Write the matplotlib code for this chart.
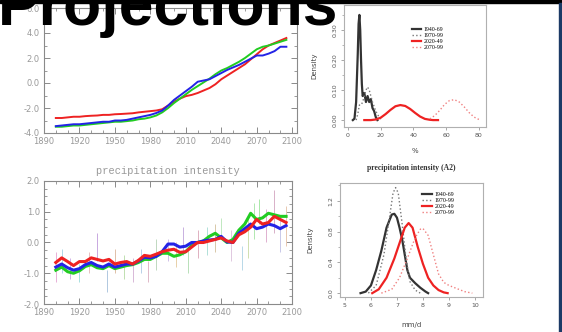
import numpy as np
import matplotlib
matplotlib.use("Agg")
import matplotlib.pyplot as plt
from matplotlib.ticker import MultipleLocator

W, H = 562, 332

# ---- top left: projections (anomaly time series) ----
yrs_top = [1900, 1905, 1910, 1915, 1920, 1925, 1930, 1935, 1940, 1945, 1950, 1955,
           1960, 1965, 1970, 1975, 1980, 1985, 1990, 1995, 2000, 2005, 2010, 2015,
           2020, 2025, 2030, 2035, 2040, 2045, 2050, 2055, 2060, 2065, 2070, 2075,
           2080, 2085, 2090, 2095]
red_top = [-2.8, -2.8, -2.75, -2.7, -2.7, -2.65, -2.62, -2.6, -2.55, -2.55, -2.5, -2.48,
           -2.45, -2.42, -2.35, -2.3, -2.25, -2.2, -2.1, -1.8, -1.5, -1.25, -1.05, -0.95,
           -0.8, -0.6, -0.4, -0.1, 0.3, 0.6, 0.9, 1.2, 1.5, 1.9, 2.3, 2.7, 3.0, 3.2, 3.4, 3.6]
blue_top = [-3.45, -3.4, -3.35, -3.3, -3.3, -3.25, -3.2, -3.15, -3.1, -3.1, -3.0, -3.0,
            -2.95, -2.85, -2.75, -2.65, -2.55, -2.4, -2.2, -1.8, -1.35, -1.0, -0.65, -0.3,
            0.1, 0.2, 0.3, 0.55, 0.8, 1.05, 1.25, 1.45, 1.7, 1.95, 2.2, 2.2, 2.35, 2.55, 2.9, 2.9]
green_top = [-3.5, -3.5, -3.45, -3.4, -3.4, -3.35, -3.3, -3.25, -3.2, -3.15, -3.1, -3.1,
             -3.05, -3.0, -2.9, -2.85, -2.75, -2.6, -2.35, -2.0, -1.6, -1.25, -0.9, -0.55,
             -0.25, 0.05, 0.35, 0.7, 1.0, 1.2, 1.45, 1.7, 2.0, 2.35, 2.7, 2.9, 3.0, 3.15, 3.3, 3.45]

# ---- bottom left: precipitation intensity ----
yrs_bot = yrs_top
red_bot = [-0.65, -0.5, -0.62, -0.75, -0.62, -0.62, -0.5, -0.55, -0.6, -0.55, -0.7, -0.65,
           -0.62, -0.7, -0.58, -0.42, -0.45, -0.38, -0.3, -0.25, -0.22, -0.32, -0.3, -0.15,
           0.0, 0.0, 0.05, 0.1, 0.15, 0.05, 0.0, 0.25, 0.35, 0.5, 0.75, 0.6, 0.65, 0.85, 0.75, 0.65]
blue_bot = [-0.8, -0.7, -0.82, -0.9, -0.85, -0.72, -0.65, -0.75, -0.8, -0.7, -0.8, -0.75,
            -0.7, -0.7, -0.6, -0.48, -0.5, -0.45, -0.3, -0.05, -0.05, -0.15, -0.12, 0.0,
            0.0, 0.05, 0.08, 0.1, 0.2, 0.02, 0.0, 0.3, 0.45, 0.6, 0.45, 0.5, 0.6, 0.55, 0.45, 0.55]
green_bot = [-0.9, -0.8, -0.95, -1.0, -0.92, -0.78, -0.72, -0.82, -0.85, -0.75, -0.85, -0.8,
             -0.75, -0.72, -0.65, -0.55, -0.55, -0.45, -0.35, -0.35, -0.45, -0.4, -0.3, -0.1,
             0.0, 0.05, 0.2, 0.3, 0.15, 0.0, 0.1, 0.4, 0.6, 0.95, 0.75, 0.8, 0.95, 0.9, 0.85, 0.85]
# faint annual spread spikes
spike_yr = [1900, 1905, 1912, 1920, 1928, 1935, 1943, 1950, 1958, 1965, 1972, 1978,
            1985, 1995, 2002, 2008, 2012, 2020, 2028, 2035, 2040, 2048, 2058, 2063,
            2068, 2072, 2078, 2085, 2090, 2095]
spike_lo = [-1.3, -1.0, -1.2, -1.3, -1.0, -0.6, -1.6, -1.0, -1.2, -1.3, -1.0, -1.3,
            -0.9, -0.6, -0.8, -0.4, -1.0, -0.5, -0.4, -0.3, 0.1, -0.6, -0.9, -0.5,
            0.1, 0.6, 0.0, 0.3, -0.3, -0.1]
spike_hi = [-0.3, -0.2, -0.5, -0.7, -0.3, 0.3, -0.9, -0.2, -0.4, -0.5, -0.2, -0.6,
            0.1, 0.1, 0.0, 0.5, -0.2, 0.4, 0.5, 0.6, 0.8, 0.4, -0.1, 0.9,
            1.3, 1.4, 1.1, 1.7, 0.9, 1.2]
spike_col = ["#e8b0d8", "#b0d8e8", "#d0b0e8", "#a8e0e0", "#e8c0c0", "#c8a8e0", "#b0c8e0",
             "#e0c0a8", "#c0e0b0", "#d8b8d8", "#b8d0e8", "#e0b8c8", "#c0d8c0", "#d0c0e8",
             "#e8d0a8", "#c8b0e0", "#b8e0b8", "#e0b0c0", "#b0e0d8", "#d8c8a8", "#c0e8c0",
             "#e0c8e0", "#b8d8e8", "#d0e0b0", "#b0e8b0", "#a8e8a8", "#e0b0d0", "#d8b0c8",
             "#c8c8e8", "#e8c8b0"]

# ---- top right: density (%) ----
k40_x = [3, 4, 5, 6, 6.5, 7, 7.5, 8, 8.5, 9, 10, 11, 12, 13, 14, 15, 16, 17, 18]
k40_y = [0, 0.005, 0.06, 0.22, 0.32, 0.35, 0.3, 0.2, 0.12, 0.08, 0.09, 0.06, 0.08, 0.06,
         0.07, 0.04, 0.03, 0.01, 0]
k70_x = [5, 6, 7, 8, 9, 10, 11, 12, 13, 14, 15, 16, 17, 18, 19, 20, 21]
k70_y = [0, 0.02, 0.05, 0.05, 0.06, 0.08, 0.1, 0.11, 0.1, 0.08, 0.06, 0.045, 0.03, 0.02,
         0.01, 0.004, 0]
k20_x = [10, 14, 17, 20, 23, 26, 29, 32, 35, 38, 41, 44, 47, 50, 52, 55]
k20_y = [0, 0, 0.002, 0.008, 0.02, 0.034, 0.046, 0.05, 0.047, 0.037, 0.024, 0.012, 0.004, 0.001, 0, 0]
k2070_x = [50, 53, 56, 59, 62, 65, 68, 71, 74, 77, 80]
k2070_y = [0.004, 0.015, 0.032, 0.052, 0.065, 0.068, 0.06, 0.044, 0.025, 0.01, 0.002]

# ---- bottom right: density (mm/d) ----
b40_x = [5.6, 5.8, 6.0, 6.2, 6.4, 6.6, 6.8, 6.9, 7.0, 7.1, 7.2, 7.3, 7.4, 7.5, 7.7, 7.9, 8.1, 8.2]
b40_y = [0, 0.02, 0.1, 0.3, 0.55, 0.85, 1.02, 1.03, 0.98, 0.85, 0.7, 0.5, 0.3, 0.2, 0.13, 0.07, 0.02, 0]
b70_x = [5.9, 6.2, 6.5, 6.7, 6.85, 6.95, 7.05, 7.2, 7.35, 7.5, 7.7, 7.9]
b70_y = [0, 0.1, 0.5, 0.95, 1.3, 1.37, 1.3, 0.9, 0.45, 0.15, 0.04, 0]
b20_x = [6.05, 6.3, 6.6, 6.9, 7.1, 7.3, 7.45, 7.6, 7.8, 8.0, 8.2, 8.4, 8.6, 8.8, 8.95]
b20_y = [0, 0.05, 0.2, 0.45, 0.65, 0.85, 0.91, 0.85, 0.6, 0.38, 0.2, 0.1, 0.04, 0.01, 0]
b2070_x = [6.4, 6.8, 7.1, 7.4, 7.7, 7.9, 8.0, 8.2, 8.4, 8.6, 8.8, 9.0, 9.3, 9.6, 9.9]
b2070_y = [0, 0.05, 0.2, 0.45, 0.72, 0.83, 0.84, 0.75, 0.5, 0.25, 0.14, 0.1, 0.06, 0.02, 0]

periods = ["1940-69", "1970-99", "2020-49", "2070-99"]

BLUE, GREEN, RED = "#2323e6", "#22cc22", "#ee2222"
GRAY = "#8a8a8a"


def px(l, t, r, b):
    return [l / W, 1 - b / H, (r - l) / W, (b - t) / H]


def ncl_style(ax):
    for s in ax.spines.values():
        s.set_color(GRAY)
        s.set_linewidth(0.8)
    ax.tick_params(which="both", direction="in", top=True, right=True,
                   color=GRAY, labelcolor="#999999", labelsize=6, pad=3)
    ax.tick_params(which="major", length=4, width=0.7)
    ax.tick_params(which="minor", length=2, width=0.6)


def r_style(ax):
    for s in ax.spines.values():
        s.set_color("#b0b0b0")
        s.set_linewidth(0.8)
    ax.tick_params(which="both", direction="out", color="#999999",
                   labelcolor="#555555", labelsize=4.5, pad=2)
    ax.tick_params(which="major", length=2.5, width=0.6)
    ax.tick_params(which="minor", length=1.5, width=0.5)
    for lb in ax.get_yticklabels():
        lb.set_rotation(90)
        lb.set_va("center")


fig = plt.figure(figsize=(W / 100, H / 100), dpi=100)
fig.patch.set_facecolor("white")

# top left
ax1 = fig.add_axes(px(44, 8, 297, 133))
ax1.plot(yrs_top, red_top, color=RED, lw=1.4)
ax1.plot(yrs_top, green_top, color=GREEN, lw=1.4)
ax1.plot(yrs_top, blue_top, color=BLUE, lw=1.4)
ax1.set_xlim(1890, 2104)
ax1.set_ylim(-4, 6)
ax1.set_xticks(range(1890, 2101, 30))
ax1.set_yticks([-4, -2, 0, 2, 4, 6])
ax1.set_yticklabels(["-4.0", "-2.0", "0.0", "2.0", "4.0", "6.0"])
ax1.xaxis.set_minor_locator(MultipleLocator(10))
ax1.yaxis.set_minor_locator(MultipleLocator(1))
ncl_style(ax1)

# bottom left
ax2 = fig.add_axes(px(44, 181, 292, 304))
ax2.vlines(spike_yr, spike_lo, spike_hi, colors=spike_col, lw=0.7)
ax2.plot(yrs_bot, green_bot, color=GREEN, lw=2.2)
ax2.plot(yrs_bot, blue_bot, color=BLUE, lw=2.2)
ax2.plot(yrs_bot, red_bot, color=RED, lw=2.2)
ax2.set_xlim(1890, 2100)
ax2.set_ylim(-2, 2)
ax2.set_xticks(range(1890, 2101, 30))
ax2.set_yticks([-2, -1, 0, 1, 2])
ax2.set_yticklabels(["-2.0", "-1.0", "0.0", "1.0", "2.0"])
ax2.xaxis.set_minor_locator(MultipleLocator(10))
ax2.yaxis.set_minor_locator(MultipleLocator(0.25))
ncl_style(ax2)
ax2.set_title("precipitation intensity", fontsize=7.5, color="#999999",
              family="Liberation Mono", pad=5)

# top right
ax3 = fig.add_axes(px(344, 5, 486, 127))
ax3.plot(k40_x, k40_y, color="#333333", lw=1.6, label=periods[0])
ax3.plot(k70_x, k70_y, color="#777777", lw=1.0, ls=":", label=periods[1])
ax3.plot(k20_x, k20_y, color="#ee2222", lw=1.6, label=periods[2])
ax3.plot(k2070_x, k2070_y, color="#f08080", lw=1.0, ls=":", label=periods[3])
ax3.set_xlim(-2.4, 84.3)
ax3.set_ylim(-0.023, 0.383)
ax3.set_xticks([0, 20, 40, 60, 80])
ax3.set_yticks([0, 0.1, 0.2, 0.3])
ax3.set_yticklabels(["0.00", "0.10", "0.20", "0.30"])
ax3.yaxis.set_minor_locator(MultipleLocator(0.05))
r_style(ax3)
ax3.set_xlabel("%", fontsize=5, color="#444444", labelpad=7)
ax3.set_ylabel("Density", fontsize=5, color="#444444", labelpad=11)
ax3.legend(loc="upper left", bbox_to_anchor=(0.44, 0.86), frameon=False,
           handlelength=1.6, handletextpad=0.5, labelspacing=0.15,
           prop={"family": "Liberation Serif", "size": 4.2})

# bottom right
ax4 = fig.add_axes(px(340, 183, 483, 297))
ax4.plot(b40_x, b40_y, color="#333333", lw=1.6, label=periods[0])
ax4.plot(b70_x, b70_y, color="#777777", lw=1.0, ls=":", label=periods[1])
ax4.plot(b20_x, b20_y, color="#ee2222", lw=1.6, label=periods[2])
ax4.plot(b2070_x, b2070_y, color="#f08080", lw=1.0, ls=":", label=periods[3])
ax4.set_xlim(4.81, 10.31)
ax4.set_ylim(-0.05, 1.43)
ax4.set_xticks([5, 6, 7, 8, 9, 10])
ax4.set_yticks([0, 0.4, 0.8, 1.2])
ax4.set_yticklabels(["0.0", "0.4", "0.8", "1.2"])
ax4.yaxis.set_minor_locator(MultipleLocator(0.2))
r_style(ax4)
ax4.set_xlabel("mm/d", fontsize=5, color="#444444", labelpad=10)
ax4.set_ylabel("Density", fontsize=5, color="#444444", labelpad=11)
ax4.set_title("precipitation intensity (A2)", fontsize=5.5, fontweight="bold",
              family="Liberation Serif", color="#333333", pad=9)
ax4.legend(loc="upper left", bbox_to_anchor=(0.54, 0.97), frameon=False,
           handlelength=1.6, handletextpad=0.5, labelspacing=0.15,
           prop={"family": "Liberation Serif", "size": 4.2})

# frame bits from the slide
fig.patches.append(plt.Rectangle((0, 1 - 3 / H), 1, 3 / H, transform=fig.transFigure,
                                 color="black", zorder=5))
fig.patches.append(plt.Rectangle((559 / W, 0), 3 / W, 1 - 3 / H, transform=fig.transFigure,
                                 color="#1b3a66", zorder=5))

fig.text(-2 / W, 1 - 25 / H, "Projections", fontsize=45, fontweight="bold",
         family="Liberation Sans", color="black", ha="left", va="baseline", zorder=10)

fig.savefig("out.png", dpi=100, facecolor="white")
